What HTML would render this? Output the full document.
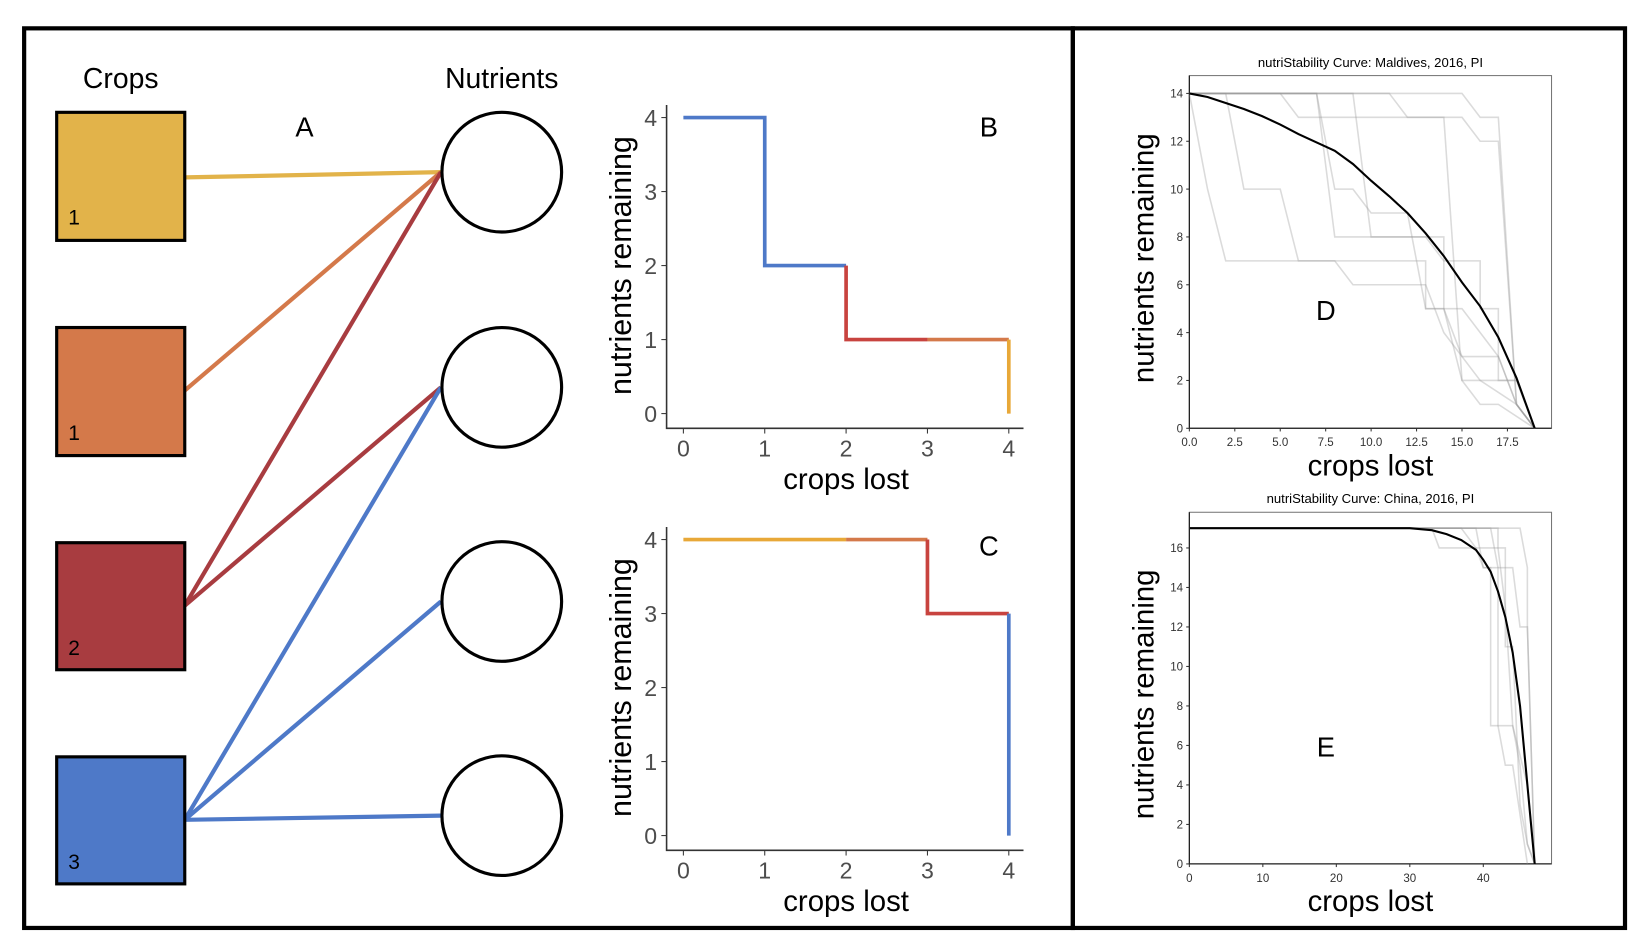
<!DOCTYPE html>
<html><head><meta charset="utf-8"><style>
html,body{margin:0;padding:0;background:#fff;}
svg{display:block;font-family:"Liberation Sans",sans-serif;}
</style></head><body>
<svg id="root" width="1646" height="950" viewBox="0 0 1568 905" preserveAspectRatio="none" xmlns="http://www.w3.org/2000/svg">
<rect x="0" y="0" width="1568" height="905" fill="#fff"/>
<rect x="23" y="27" width="999" height="857" fill="none" stroke="#000" stroke-width="4"/>
<rect x="1022" y="27" width="526" height="857" fill="none" stroke="#000" stroke-width="4"/>
<g>
<text x="115" y="84" font-size="27" text-anchor="middle">Crops</text>
<text x="478" y="84" font-size="27" text-anchor="middle">Nutrients</text>
<text x="290" y="130" font-size="26" text-anchor="middle">A</text>
<g stroke-width="4" fill="none">
<line x1="176" y1="169" x2="420" y2="164" stroke="#E2B34A"/>
<line x1="176" y1="372" x2="420" y2="164" stroke="#D4794A"/>
<line x1="176" y1="577" x2="420" y2="164" stroke="#A83C40"/>
<line x1="176" y1="577" x2="420" y2="369" stroke="#A83C40"/>
<line x1="176" y1="781" x2="420" y2="369" stroke="#4E79C8"/>
<line x1="176" y1="781" x2="420" y2="573" stroke="#4E79C8"/>
<line x1="176" y1="781" x2="420" y2="777" stroke="#4E79C8"/>
</g>
<rect x="54" y="107" width="122" height="122" fill="#E2B34A" stroke="#000" stroke-width="3"/>
<rect x="54" y="312" width="122" height="122" fill="#D4794A" stroke="#000" stroke-width="3"/>
<rect x="54" y="517" width="122" height="121" fill="#A83C40" stroke="#000" stroke-width="3"/>
<rect x="54" y="721" width="122" height="121" fill="#4E79C8" stroke="#000" stroke-width="3"/>
<g font-size="20" fill="#000">
<text x="65" y="214">1</text>
<text x="65" y="419">1</text>
<text x="65" y="624">2</text>
<text x="65" y="828">3</text>
</g>
<g fill="#fff" stroke="#000" stroke-width="3">
<circle cx="478" cy="164" r="57"/>
<circle cx="478" cy="369" r="57"/>
<circle cx="478" cy="573" r="57"/>
<circle cx="478" cy="777" r="57"/>
</g>
</g>
<g id="charts"></g>
</svg>
<script>
// Chart B data
const bTicksX = [0,1,2,3,4];
const bTicksY = [0,1,2,3,4];
const bSegX = [[0,1,1,2],[2,2,3],[3,4],[4,4]];
const bSegY = [[4,4,2,2],[2,1,1],[1,1],[1,0]];
const bColors = ['#4E79C8','#C8433F','#D4794A','#E8A838'];
// Chart C data
const cSegX = [[0,2],[2,3],[3,3,4],[4,4]];
const cSegY = [[4,4],[4,4],[4,3,3],[3,0]];
const cColors = ['#E8A838','#D4794A','#C8433F','#4E79C8'];
// Chart D data
const dTicksX = [0,2.5,5,7.5,10,12.5,15,17.5];
const dTickLabelsX = ['0.0','2.5','5.0','7.5','10.0','12.5','15.0','17.5'];
const dTicksY = [0,2,4,6,8,10,12,14];
const dMeanX = [0,1,2,3,4,5,6,7,8,9,10,11,12,13,14,15,16,17,18,19];
const dMeanY = [14,13.85,13.6,13.35,13.05,12.7,12.3,11.95,11.6,11.05,10.35,9.7,9,8.15,7.2,6.1,5.1,3.8,2.1,0];
const dGrayX = [
 [0,1,2,8,9,13,14,16,18,19],
 [0,2,3,5,6,13,13,15,17,18,19],
 [0,5,6,15,16,17,18,19],
 [0,7,8,9,10,12,13,14,15,17,18,19],
 [0,9,10,14,14,15,18,19],
 [0,11,12,14,15,16,17,19],
 [0,15,16,17,18,19],
 [0,7,8,13,14,16,16,17,17,18,19]];
const dGrayY = [
 [14,10,7,7,6,6,4,2,1,0],
 [14,14,10,10,7,7,5,5,3,1,0],
 [14,14,13,13,12,12,1,0],
 [14,14,10,10,9,9,5,5,3,3,1,0],
 [14,14,8,8,5,2,2,0],
 [14,14,13,13,2,1,1,0],
 [14,14,13,13,1,0],
 [14,14,8,8,7,7,5,5,2,2,0]];
// Chart E data
const eTicksX = [0,10,20,30,40];
const eTicksY = [0,2,4,6,8,10,12,14,16];
const eMeanX = [0,30,33,35,37,39,40,41,42,43,44,45,46,47];
const eMeanY = [17,17,16.9,16.7,16.4,15.9,15.4,14.8,13.8,12.5,10.7,8,4,0];
const eGrayX = [
 [0,33,34,39,40,42,42,44,45,46,47],
 [0,39,40,41,41,42,43,44,46],
 [0,42,42,43,43,44,45,46,47],
 [0,45,46,46,47],
 [0,41,42,44,45,46,47],
 [0,37,39,42,43,44,46,47]];
const eGrayY = [
 [17,17,16,16,15,15,7,7,5,1,0],
 [17,17,15,15,7,7,5,5,0],
 [17,17,16,16,11,11,3,1,0],
 [17,17,15,12,0],
 [17,17,15,15,12,12,0],
 [17,17,16,16,13,7,4,0]];

const NS='http://www.w3.org/2000/svg';
const G=document.getElementById('charts');
function mk(tag,attrs,parent){const e=document.createElementNS(NS,tag);for(const k in attrs)e.setAttribute(k,attrs[k]);(parent||G).appendChild(e);return e;}
function txt(s,attrs,parent){const e=mk('text',attrs,parent);e.textContent=s;return e;}
function scale(d0,d1,r0,r1){return v=>r0+(v-d0)/(d1-d0)*(r1-r0);}

function smallChart(name,sx,sy,segX,segY,colors,yTop,xAxisY,label,lx,ly){
 const g=mk('g',{});
 
 
 const ax=mk('path',{d:`M635 ${yTop} V${xAxisY} H975`,stroke:'#333',fill:'none','stroke-width':1.5},g);
 
 
 bTicksX.forEach(v=>{
  mk('line',{x1:sx(v),x2:sx(v),y1:xAxisY,y2:xAxisY+5,stroke:'#333'},g);
  const t=txt(String(v),{x:sx(v),y:xAxisY+27,'font-size':22,fill:'#4d4d4d','text-anchor':'middle'},g);
  
  
 });
 bTicksY.forEach(v=>{
  mk('line',{x1:630,x2:635,y1:sy(v),y2:sy(v),stroke:'#333'},g);
  const t=txt(String(v),{x:626,y:sy(v)+8,'font-size':22,fill:'#4d4d4d','text-anchor':'end'},g);
  
  
 });
 const mid=(sy(0)+sy(4))/2;
 const yl=txt('nutrients remaining',{x:0,y:0,'font-size':29,'text-anchor':'middle',transform:`translate(601 ${mid}) rotate(-90)`},g);
 
 
 const xl=txt('crops lost',{x:806,y:xAxisY+58,'font-size':28,'text-anchor':'middle'},g);
 
 
 segX.forEach((xs,i)=>{
  const d=xs.map((x,j)=>(j?'L':'M')+sx(x)+' '+sy(segY[i][j])).join(' ');
  const p=mk('path',{d,stroke:colors[i],fill:'none','stroke-width':3.5},g);
  
  
 });
 const pl=txt(label,{x:lx,y:ly,'font-size':26,'text-anchor':'middle'},g);
 
 
}
smallChart('chart-b',scale(0,4,651,961),scale(0,4,394,112),bSegX,bSegY,bColors,100,408,'B',942,130);
smallChart('chart-c',scale(0,4,651,961),scale(0,4,796,514),cSegX,cSegY,cColors,502,810,'C',942,529);

function bigChart(name,title,x0,y0,x1,y1,sx,sy,tx,tlx,ty,mx,my,gx,gy,label,ttlY){
 const g=mk('g',{});
 
 
 const fr=mk('rect',{x:x0,y:y0,width:x1-x0,height:y1-y0,fill:'#fff',stroke:'#777','stroke-width':1},g);
 
 
 mk('path',{d:`M${x0} ${y0} V${y1} H${x1}`,stroke:'#222',fill:'none','stroke-width':1.2},g);
 const t=txt(title,{x:(x0+x1)/2,y:ttlY,'font-size':12.5,'text-anchor':'middle'},g);
 
 
 tx.forEach((v,i)=>{
  mk('line',{x1:sx(v),x2:sx(v),y1:y1,y2:y1+3,stroke:'#333'},g);
  const l=txt(tlx[i],{x:sx(v),y:y1+17,'font-size':11,fill:'#333','text-anchor':'middle'},g);
  
  
 });
 ty.forEach(v=>{
  mk('line',{x1:x0-3,x2:x0,y1:sy(v),y2:sy(v),stroke:'#333'},g);
  const l=txt(String(v),{x:x0-6,y:sy(v)+4,'font-size':11,fill:'#333','text-anchor':'end'},g);
  
  
 });
 gx.forEach((xs,i)=>{
  const d=xs.map((x,j)=>(j?'L':'M')+sx(x)+' '+sy(gy[i][j])).join(' ');
  const p=mk('path',{d,stroke:'#999','stroke-opacity':0.35,fill:'none','stroke-width':1.5},g);
  
  
 });
 const d=mx.map((x,j)=>(j?'L':'M')+sx(x)+' '+sy(my[j])).join(' ');
 const m=mk('path',{d,stroke:'#000',fill:'none','stroke-width':2},g);
 
 
 const yl=txt('nutrients remaining',{x:0,y:0,'font-size':28,'text-anchor':'middle',transform:`translate(1099 ${(y0+y1)/2+6}) rotate(-90)`},g);
 
 
 const xl=txt('crops lost',{x:(x0+x1)/2,y:y1+45,'font-size':28,'text-anchor':'middle'},g);
 
 
 const pl=txt(label,{x:1263,y:(y0+y1)/2+65,'font-size':26,'text-anchor':'middle'},g);
 
 
}
bigChart('chart-d','nutriStability Curve: Maldives, 2016, PI',1133,72,1478,408,
 scale(0,17.5,1133,1436),scale(0,14,408,89),dTicksX,dTickLabelsX,dTicksY,dMeanX,dMeanY,dGrayX,dGrayY,'D',64);
bigChart('chart-e','nutriStability Curve: China, 2016, PI',1133,488,1478,823,
 scale(0,40,1133,1413),scale(0,16,823,522),eTicksX,eTicksX.map(String),eTicksY,eMeanX,eMeanY,eGrayX,eGrayY,'E',479);
</script>
</body></html>
